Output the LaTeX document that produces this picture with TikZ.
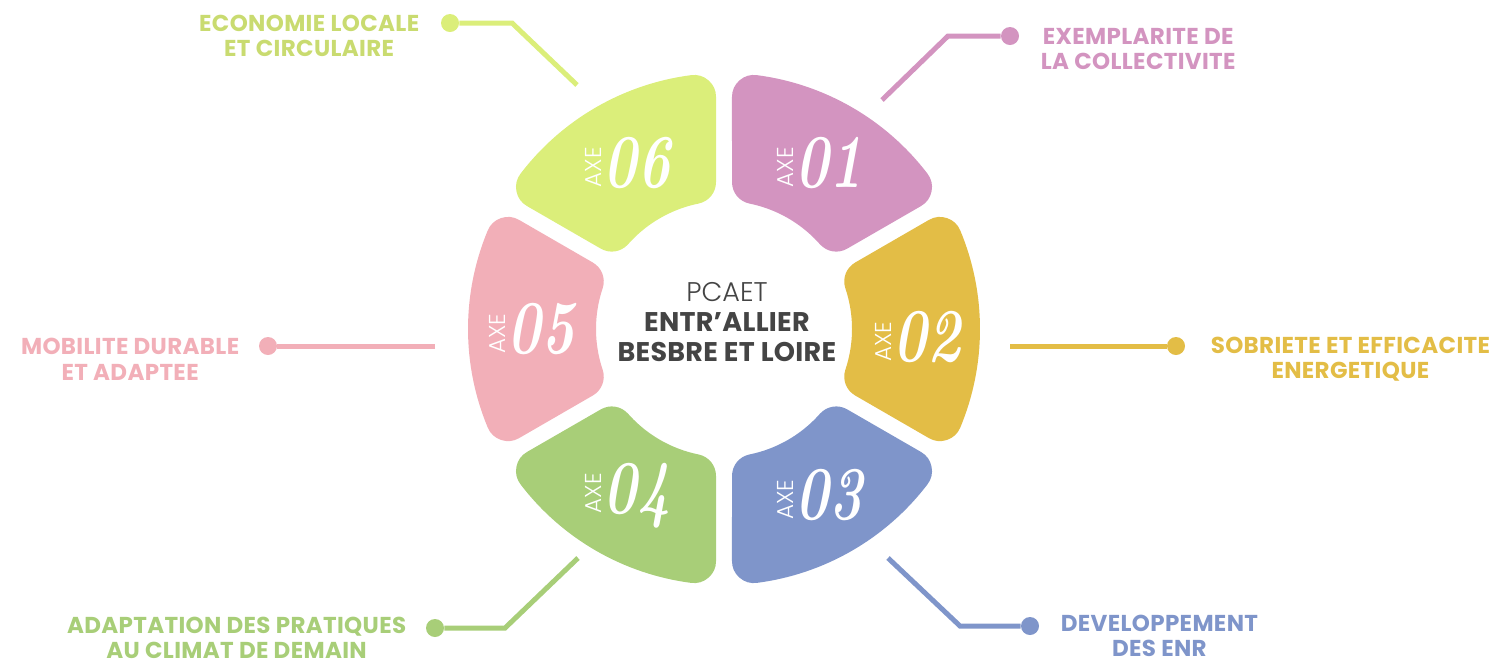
\documentclass[tikz,border=0pt]{standalone}
\usepackage{fontspec}
\usepackage{graphicx}
\usetikzlibrary{positioning}

\newfontfamily\popfont{Poppins}[LetterSpace=1.5]
\newfontfamily\titlefont{Poppins}[LetterSpace=1]
\newfontfamily\thinfont{Poppins Light}

\definecolor{axeA}{HTML}{D394C0}
\definecolor{axeB}{HTML}{E3BD46}
\definecolor{axeC}{HTML}{7F95CA}
\definecolor{axeD}{HTML}{A8CE78}
\definecolor{axeE}{HTML}{F2AFB8}
\definecolor{axeF}{HTML}{DBEE7A}
\definecolor{darktext}{HTML}{444444}

% one rounded ring piece: centre angle, colour
\newcommand{\petal}[2]{%
  \fill[#2, draw=#2, petal]
    (#1-22.64:234) arc[start angle=#1-22.64, end angle=#1+22.64, radius=234]
    -- (#1+18.46:150) arc[start angle=#1+18.46, end angle=#1-18.46, radius=150]
    -- cycle;
}
% white "AXE nn" text in a piece
\newcommand{\axetext}[1]{\rotatebox{90}{\thinfont\fontsize{11.5}{11.5}\selectfont AXE}\kern1pt\scalebox{0.74}[1]{\bfseries\itshape\fontsize{38}{38}\selectfont #1}}

\tikzset{
  petal/.style={line width=22pt, line join=round},
  axetxt/.style={text=white, inner sep=0pt},
  lbl/.style={font=\popfont\bfseries\fontsize{11.5}{12.8}\selectfont, align=center, inner sep=0pt},
  dot/.style={circle, fill, inner sep=0pt, minimum size=9pt},
  lead/.style={line width=2.5pt},
}

\begin{document}
\begin{tikzpicture}[x=0.5pt, y=-0.5pt]
\useasboundingbox (0,0) rectangle (1503,661);

\begin{scope}[shift={(724,329)}]
  \petal{-60}{axeA}
  \petal{0}{axeB}
  \petal{60}{axeC}
  \petal{120}{axeD}
  \petal{180}{axeE}
  \petal{240}{axeF}
  \node[axetxt] (n1) at (-60:192) {\axetext{01}};
  \node[axetxt] (n2) at ([yshift=-4pt]0:194) {\axetext{02}};
  \node[axetxt] (n3) at (60:192) {\axetext{03}};
  \node[axetxt] (n4) at (120:192) {\axetext{04}};
  \node[axetxt] (n5) at (180:192) {\axetext{05}};
  \node[axetxt] (n6) at (240:192) {\axetext{06}};
\end{scope}

\node[align=center, text=darktext, font=\titlefont\fontsize{13.5}{15}\selectfont] (title) at (727,322)
  {{\thinfont PCAET}\\ \textbf{ENTR’ALLIER}\\ \textbf{BESBRE ET LOIRE}};

% leader ends on the ring
\coordinate (p1) at (882,100);
\coordinate (p2) at (1010,346);
\coordinate (p3) at (888,558);
\coordinate (p4) at (578,558);
\coordinate (p5) at (435,346);
\coordinate (p6) at (577,85);
\coordinate (k1) at (948,36);
\coordinate (k3) at (960,626);
\coordinate (k4) at (505,628);
\coordinate (k6) at (512,23);

\node[dot, axeA] (d1) at (1010,36) {};
\node[dot, axeB] (d2) at (1176,346) {};
\node[dot, axeC] (d3) at (1030,626) {};
\node[dot, axeD] (d4) at (435,628) {};
\node[dot, axeE] (d5) at (268,346) {};
\node[dot, axeF] (d6) at (450,23) {};

\draw[lead, axeA] (p1) -- (k1) -- (d1);
\draw[lead, axeB] (p2) -- (d2);
\draw[lead, axeC] (p3) -- (k3) -- (d3);
\draw[lead, axeD] (p4) -- (k4) -- (d4);
\draw[lead, axeE] (p5) -- (d5);
\draw[lead, axeF] (p6) -- (k6) -- (d6);

\node[lbl, text=axeA, right=10.5pt of d1, yshift=-6.5pt] (t1) {EXEMPLARITE DE\\LA COLLECTIVITE};
\node[lbl, text=axeB, right=12.5pt of d2, yshift=-6.5pt] (t2) {SOBRIETE ET EFFICACITE\\ENERGETIQUE};
\node[lbl, text=axeC, right=10.5pt of d3, yshift=-5pt] (t3) {DEVELOPPEMENT\\DES ENR};
\node[lbl, text=axeD, left=9.5pt of d4, yshift=-5pt] (t4) {ADAPTATION DES PRATIQUES\\AU CLIMAT DE DEMAIN};
\node[lbl, text=axeE, left=9.5pt of d5, yshift=-6.5pt] (t5) {MOBILITE DURABLE\\ET ADAPTEE};
\node[lbl, text=axeF!92!black, left=10.5pt of d6, yshift=-6.5pt] (t6) {ECONOMIE LOCALE\\ET CIRCULAIRE};
\end{tikzpicture}
\end{document}
